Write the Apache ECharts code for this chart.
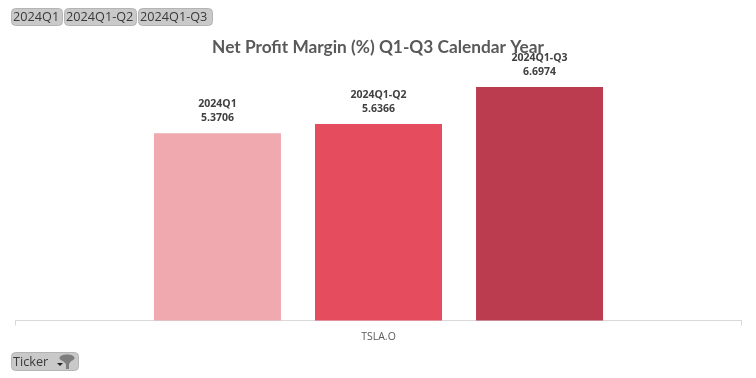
<!DOCTYPE html>
<html>
<head>
<meta charset="utf-8">
<style>
html, body { margin: 0; padding: 0; background: #fff; }
#chart { width: 756px; height: 378px; }
</style>
<script src="https://cdn.jsdelivr.net/npm/echarts@6/dist/echarts.min.js"></script>
</head>
<body>
<div id="chart"></div>
<script>
var categories = ['TSLA.O'];
var seriesNames = ['2024Q1', '2024Q1-Q2', '2024Q1-Q3'];
var q1Values = [5.3706];
var q1q2Values = [5.6366];
var q1q3Values = [6.6974];
var seriesColors = ['#EFA9AF', '#E54D5F', '#BB3C4F'];
var seriesValues = [q1Values, q1q2Values, q1q3Values];

var font = '"Open Sans", "Noto Sans", sans-serif';
var titleFont = 'Lato, "Open Sans", sans-serif';

// slicer style buttons
function button(x, y, w, h, text, fontSize) {
	return [
		{
			type: 'rect',
			shape: { x: x + 0.5, y: y + 0.5, width: w, height: h, r: 4 },
			style: { fill: '#C9C9C9', stroke: '#B4B4B4', lineWidth: 1 }
		},
		{
			type: 'text',
			x: x + 2,
			y: y + h / 2 + 1,
			style: { text: text, fill: '#3A3A3A', font: fontSize + 'px ' + font, textVerticalAlign: 'middle' }
		}
	];
}

var graphics = []
	.concat(button(11, 8, 51, 17, '2024Q1', 12.7))
	.concat(button(64, 8, 72, 17, '2024Q1-Q2', 12.7))
	.concat(button(138, 8, 74, 17, '2024Q1-Q3', 12.7))
	.concat(button(11, 352, 67, 18, 'Ticker', 12.7));

// dropdown arrow and funnel on the Ticker button
graphics.push({
	type: 'polygon',
	shape: { points: [[57, 363], [63, 363], [60, 366]] },
	style: { fill: '#222' }
});
graphics.push({
	type: 'ellipse',
	shape: { cx: 67, cy: 358, rx: 7.5, ry: 3.5 },
	style: { fill: '#7E7E7E' }
});
graphics.push({
	type: 'polygon',
	shape: { points: [[62, 360], [72, 360], [69, 364], [69, 369], [66, 369], [66, 364]] },
	style: { fill: '#7E7E7E' }
});

var chart = echarts.init(document.getElementById('chart'), null, { renderer: 'canvas' });

var option = {
	animation: false,
	backgroundColor: '#fff',
	title: {
		text: 'Net Profit Margin (%) Q1-Q3 Calendar Year',
		left: 373,
		top: 34,
		textAlign: 'center',
		textStyle: { color: '#595959', fontSize: 17.3, fontWeight: 'bold', fontFamily: titleFont }
	},
	grid: { left: 15.5, right: 14.5, top: 41.5, bottom: 57.5 },
	xAxis: {
		type: 'category',
		data: categories,
		axisLine: { lineStyle: { color: '#D9D9D9', width: 1 } },
		axisTick: { show: true, length: 5, lineStyle: { color: '#D9D9D9' } },
		axisLabel: { color: '#595959', fontSize: 10.5, margin: 11, fontFamily: font }
	},
	yAxis: { type: 'value', min: 0, max: 8, show: false },
	series: seriesNames.map(function (name, i) {
		return {
			name: name,
			type: 'bar',
			barWidth: 127,
			barGap: '26.8%',
			data: seriesValues[i],
			itemStyle: { color: seriesColors[i] },
			label: {
				show: true,
				position: 'top',
				distance: 8,
				formatter: '{a}\n{c}',
				color: '#404040',
				fontSize: 10.5,
				lineHeight: 14,
				fontWeight: 'bold',
				fontFamily: font
			}
		};
	}),
	graphic: graphics
};
chart.setOption(option);
</script>
</body>
</html>
